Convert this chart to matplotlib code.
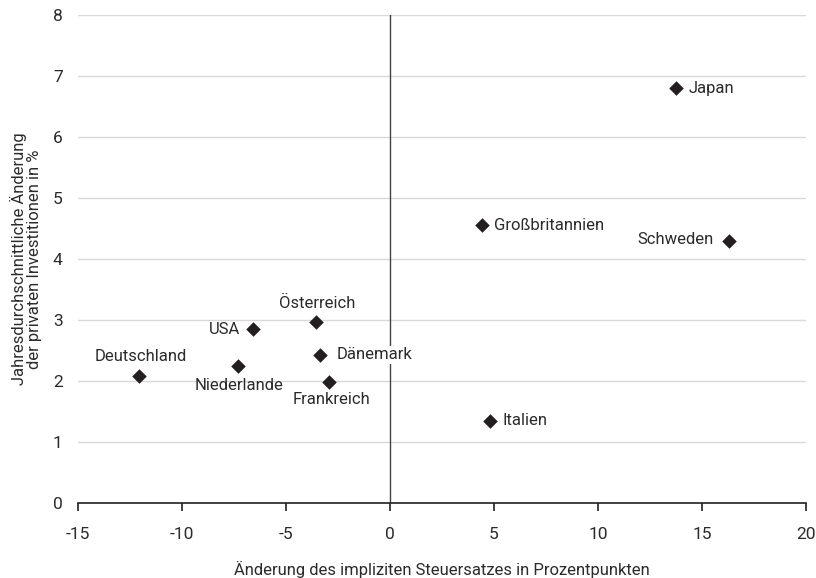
import matplotlib
matplotlib.use("Agg")
import matplotlib.pyplot as plt

countries = ["Japan", "Großbritannien", "Schweden", "Österreich", "USA",
             "Dänemark", "Niederlande", "Deutschland", "Frankreich", "Italien"]
tax_change = [13.75, 4.4, 16.3, -3.55, -6.6, -3.35, -7.3, -12.05, -2.95, 4.8]
invest_change = [6.8, 4.55, 4.3, 2.97, 2.85, 2.43, 2.25, 2.09, 1.98, 1.35]

x_ticks = [-15, -10, -5, 0, 5, 10, 15, 20]
y_ticks = [0, 1, 2, 3, 4, 5, 6, 7, 8]

# label placement: (dx pt, dy pt, ha, va)
placement = {
    "Japan": (9, 0, "left", "center"),
    "Großbritannien": (9, 0, "left", "center"),
    "Schweden": (-11, 1, "right", "center"),
    "Österreich": (1, 8, "center", "bottom"),
    "USA": (-9, 0, "right", "center"),
    "Dänemark": (12, 0, "left", "center"),
    "Niederlande": (1, -9, "center", "top"),
    "Deutschland": (1, 8, "center", "bottom"),
    "Frankreich": (2, -7, "center", "top"),
    "Italien": (9, 0, "left", "center"),
}

plt.rcParams["font.family"] = ["Roboto", "DejaVu Sans"]
text_color = "#2b2b2b"

fig = plt.figure(figsize=(8.16, 5.78), dpi=100)
ax = fig.add_axes([78/816, 1 - 503/578, 728/816, 488/578])

ax.set_xlim(-15, 20)
ax.set_ylim(0, 8)
ax.set_xticks(x_ticks)
ax.set_yticks(y_ticks)
ax.set_xticklabels([str(v) for v in x_ticks])
ax.set_yticklabels([str(v) for v in y_ticks])

ax.grid(axis="y", color="#d9d9d9", linewidth=1)
ax.set_axisbelow(True)
for s in ["top", "right", "left"]:
    ax.spines[s].set_visible(False)
ax.spines["bottom"].set_color("#231f20")
ax.spines["bottom"].set_linewidth(1.2)
ax.tick_params(axis="x", direction="out", length=6, width=1.2, color="#231f20",
               labelsize=12.5, labelcolor=text_color, pad=11)
ax.tick_params(axis="y", length=0, labelsize=12.5, labelcolor=text_color, pad=11)

ax.axvline(0, color="#444444", linewidth=1, zorder=1)

ax.scatter(tax_change, invest_change, marker="D", s=55, color="#231f20", zorder=3,
           linewidths=0)

for name, xv, yv in zip(countries, tax_change, invest_change):
    dx, dy, ha, va = placement[name]
    kw = {}
    if name == "Dänemark":
        kw["bbox"] = dict(facecolor="white", edgecolor="none", pad=1)
    ax.annotate(name, (xv, yv), xytext=(dx, dy), textcoords="offset points",
                ha=ha, va=va, fontsize=12, color=text_color, zorder=4, **kw)

ax.set_xlabel("Änderung des impliziten Steuersatzes in Prozentpunkten",
              fontsize=12, color=text_color, labelpad=14)
ax.set_ylabel("Jahresdurchschnittliche Änderung\nder privaten Investitionen in %",
              fontsize=12, color=text_color, linespacing=1.0)
ax.yaxis.set_label_coords(-36/728, 0.5)

fig.savefig("out.png", dpi=100)
